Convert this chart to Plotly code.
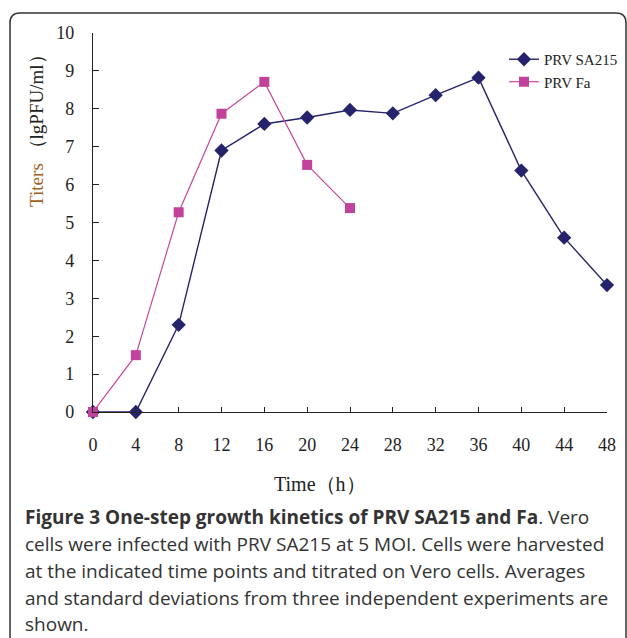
import plotly.graph_objects as go

time_sa215 = [0, 4, 8, 12, 16, 20, 24, 28, 32, 36, 40, 44, 48]
titer_sa215 = [0, 0, 2.3, 6.9, 7.6, 7.77, 7.97, 7.88, 8.36, 8.82, 6.37, 4.6, 3.35]
time_fa = [0, 4, 8, 12, 16, 20, 24]
titer_fa = [0, 1.5, 5.27, 7.87, 8.71, 6.52, 5.38]
x_ticks = list(range(0, 49, 4))
y_ticks = list(range(0, 11))

W, H = 627, 638
L, R, T, B = 93, 20, 33, 225.5
pw, ph = W - L - R, H - T - B

def px(x):
    return (x - L) / pw

def py(y):
    return (H - B - y) / ph

fig = go.Figure()
fig.add_trace(go.Scatter(
    x=time_sa215, y=titer_sa215, name="PRV SA215", mode="lines+markers",
    line=dict(color="#25236b", width=1.4),
    marker=dict(symbol="diamond", size=11, color="#25236b"),
    cliponaxis=False))
fig.add_trace(go.Scatter(
    x=time_fa, y=titer_fa, name="PRV Fa", mode="lines+markers",
    line=dict(color="#c9479d", width=1.2),
    marker=dict(symbol="square", size=10, color="#c0429a"),
    cliponaxis=False))

tickfont = dict(family="Liberation Serif", size=18, color="#222")
fig.update_xaxes(range=[0, 48], tickvals=x_ticks, ticks="inside", ticklen=5,
                 tickcolor="#222", showline=True, linecolor="#222", linewidth=1.3,
                 showgrid=False, zeroline=False, tickfont=tickfont, ticklabelstandoff=16)
fig.update_yaxes(range=[0, 10], tickvals=y_ticks, ticks="inside", ticklen=6,
                 tickcolor="#222", showline=True, linecolor="#222", linewidth=1.3,
                 showgrid=False, zeroline=False, tickfont=tickfont, ticklabelstandoff=14)

# rounded frame
r = 10
x0, x1, y0, y1 = 10, 626, 13, 645
path = (f"M {px(x0)} {py(y1)} L {px(x0)} {py(y0 + r)} "
        f"Q {px(x0)} {py(y0)} {px(x0 + r)} {py(y0)} "
        f"L {px(x1 - r)} {py(y0)} Q {px(x1)} {py(y0)} {px(x1)} {py(y0 + r)} "
        f"L {px(x1)} {py(y1)}")
shapes = [dict(type="path", xref="paper", yref="paper", path=path,
               line=dict(color="#333", width=1.5))]

annotations = [
    dict(x=px(37), y=py(127), xref="paper", yref="paper", textangle=-90,
         text="<span style='color:#a0601e'>Titers</span> （lgPFU/ml）",
         showarrow=False, font=dict(family="Liberation Serif", size=19, color="#222"),
         xanchor="center", yanchor="middle"),
    dict(x=px(320), y=py(485), xref="paper", yref="paper",
         text="Time（h）", showarrow=False,
         font=dict(family="Liberation Serif", size=20, color="#222"),
         xanchor="center", yanchor="middle"),
]
caption = [
    "<b>Figure 3 One-step growth kinetics of PRV SA215 and Fa</b>. Vero",
    "cells were infected with PRV SA215 at 5 MOI. Cells were harvested",
    "at the indicated time points and titrated on Vero cells. Averages",
    "and standard deviations from three independent experiments are",
    "shown.",
]
cap_y = [518, 545, 572, 599, 625]
for line, yy in zip(caption, cap_y):
    annotations.append(dict(x=px(23), y=py(yy), xref="paper", yref="paper",
                            text=line, showarrow=False, xanchor="left", yanchor="middle",
                            font=dict(family="Open Sans", size=19, color="#333")))

fig.update_layout(
    width=W, height=H, margin=dict(l=L, r=R, t=T, b=B, autoexpand=False),
    plot_bgcolor="white", paper_bgcolor="white",
    shapes=shapes, annotations=annotations,
    legend=dict(x=px(504), y=py(43), xanchor="left", yanchor="top",
                font=dict(family="Liberation Serif", size=15, color="#222"),
                bgcolor="rgba(0,0,0,0)", tracegroupgap=0),
)

fig.write_html("out.html", config={"displayModeBar": False},
               post_script="document.body.style.margin='0px';")
